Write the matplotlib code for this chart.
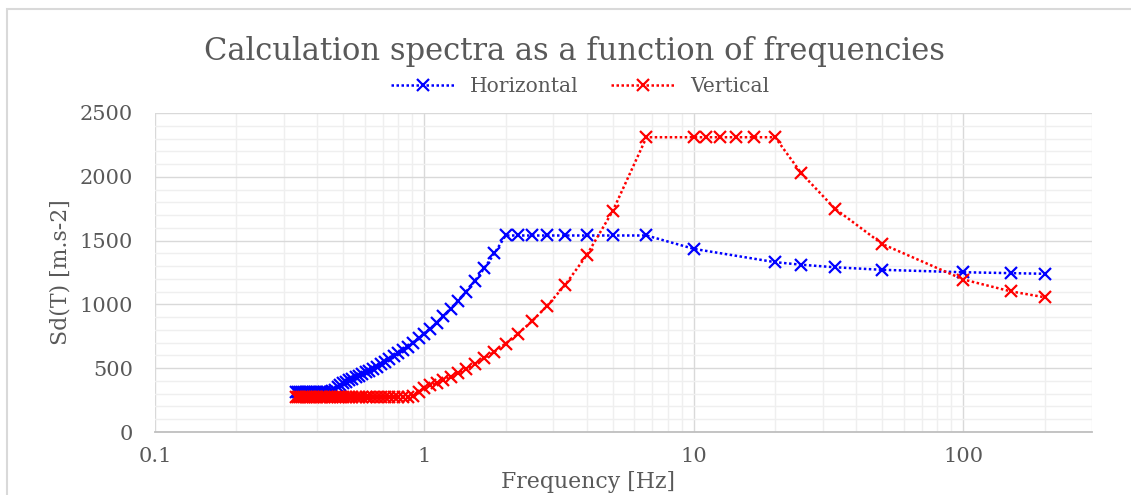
import numpy as np
import matplotlib
matplotlib.use('Agg')
import matplotlib.pyplot as plt
from matplotlib.patches import Rectangle
from matplotlib.ticker import FixedLocator, NullFormatter

# periods T [s] shared by both spectra (dense part), frequency = 1/T
periods_dense = [3.0, 2.95, 2.9, 2.85, 2.8, 2.75, 2.7, 2.65, 2.6, 2.55,
                 2.5, 2.45, 2.4, 2.35, 2.3, 2.25, 2.2, 2.15, 2.1, 2.05,
                 2.0, 1.95, 1.9, 1.85, 1.8, 1.75, 1.7, 1.65, 1.6, 1.55,
                 1.5, 1.45, 1.4, 1.35, 1.3, 1.25, 1.2, 1.15, 1.1, 1.05,
                 1.0, 0.95, 0.9, 0.85, 0.8, 0.75, 0.7, 0.65, 0.6, 0.55,
                 0.5, 0.45, 0.4, 0.35, 0.3, 0.25, 0.2, 0.15]
periods_h_tail = [0.1, 0.05, 0.04, 0.03, 0.02, 0.01, 0.00667, 0.005]
periods_v_tail = [0.1, 0.09, 0.08, 0.07, 0.06, 0.05, 0.04, 0.03, 0.02,
                  0.01, 0.00667, 0.005]

sd_horizontal = [315, 315, 315, 315, 315, 315, 315, 315, 315, 315,
                 315, 315, 315, 315, 315, 315, 318, 333, 349, 366,
                 385, 395, 405, 416, 428, 440, 453, 467, 481, 497,
                 513, 531, 550, 570, 592, 616, 642, 670, 700, 733,
                 770, 811, 856, 906, 963, 1027, 1100, 1185, 1283, 1400,
                 1540, 1540, 1540, 1540, 1540, 1540, 1540, 1540,
                 1435, 1331, 1311, 1291, 1271, 1252, 1245, 1240]
sd_vertical = [276, 276, 276, 276, 276, 276, 276, 276, 276, 276,
               276, 276, 276, 276, 276, 276, 276, 276, 276, 276,
               276, 276, 276, 276, 276, 276, 276, 276, 276, 276,
               276, 276, 276, 276, 276, 276, 276, 276, 286, 314,
               347, 365, 385, 408, 433, 462, 495, 533, 578, 630,
               693, 770, 866, 990, 1155, 1386, 1733, 2310,
               2310, 2310, 2310, 2310, 2310, 2310,
               2029, 1751, 1473, 1195, 1102, 1056]

x_ticks = [0.1, 1, 10, 100]
x_tick_labels = ['0.1', '1', '10', '100']
y_ticks = [0, 500, 1000, 1500, 2000, 2500]

freq_h = 1.0 / np.array(periods_dense + periods_h_tail)
freq_v = 1.0 / np.array(periods_dense + periods_v_tail)

plt.rcParams['font.family'] = ['DejaVu Serif']
txt = '#595959'

W, H = 1131, 495
fig = plt.figure(figsize=(W / 100, H / 100), dpi=100)
ax = fig.add_axes([155 / W, 1 - 432 / H, (1092 - 155) / W, (432 - 113) / H])

ax.plot(freq_h, sd_horizontal, color='#0000FF', linestyle=(0, (1, 1)),
        linewidth=1.8, marker='x', markersize=8, markeredgewidth=1.6,
        label='Horizontal', zorder=3)
ax.plot(freq_v, sd_vertical, color='#FF0000', linestyle=(0, (1, 1)),
        linewidth=1.8, marker='x', markersize=8, markeredgewidth=1.6,
        label='Vertical', zorder=4)

ax.set_xscale('log')
ax.set_xlim(0.1, 300)
ax.set_ylim(0, 2500)
ax.xaxis.set_major_locator(FixedLocator(x_ticks))
ax.set_xticklabels(x_tick_labels)
ax.xaxis.set_minor_locator(FixedLocator(
    [m * 10.0 ** e for e in range(-1, 3) for m in range(2, 10)]))
ax.xaxis.set_minor_formatter(NullFormatter())
ax.set_yticks(y_ticks)
ax.set_yticks(np.arange(0, 2501, 100), minor=True)

ax.grid(True, which='minor', color='#efefef', linewidth=1.0, zorder=0)
ax.grid(True, which='major', color='#d9d9d9', linewidth=1.0, zorder=1)
ax.set_axisbelow(True)
for s in ['left', 'right', 'top']:
    ax.spines[s].set_visible(False)
ax.spines['bottom'].set_color('#bfbfbf')
ax.spines['bottom'].set_linewidth(1.3)
ax.tick_params(which='both', length=0, colors=txt, labelsize=15)
ax.tick_params(axis='y', pad=16)
ax.tick_params(axis='x', pad=11)

fig.text(574 / W, 1 - 60 / H, 'Calculation spectra as a function of frequencies',
         ha='center', va='baseline', fontsize=22, color=txt)
fig.text(588 / W, 1 - 482 / H, 'Frequency [Hz]', ha='center', va='center',
         fontsize=15.8, color=txt)
fig.text(60 / W, 1 - 272 / H, 'Sd(T) [m.s-2]', ha='center', va='center',
         rotation=90, fontsize=15.8, color=txt)

leg = fig.legend(loc='center', bbox_to_anchor=(580 / W, 1 - 87 / H), ncol=2,
                 frameon=False, fontsize=14.6, handlelength=3.2,
                 handletextpad=0.7, columnspacing=1.6, labelcolor=txt)

# chart area border (cropped on the right and bottom)
fig.patches.append(Rectangle((7 / W, -0.1), 1.2, 1.1 - 9 / H,
                             transform=fig.transFigure, fill=False,
                             edgecolor='#d9d9d9', linewidth=1.5))

fig.savefig('out.png', dpi=100)
